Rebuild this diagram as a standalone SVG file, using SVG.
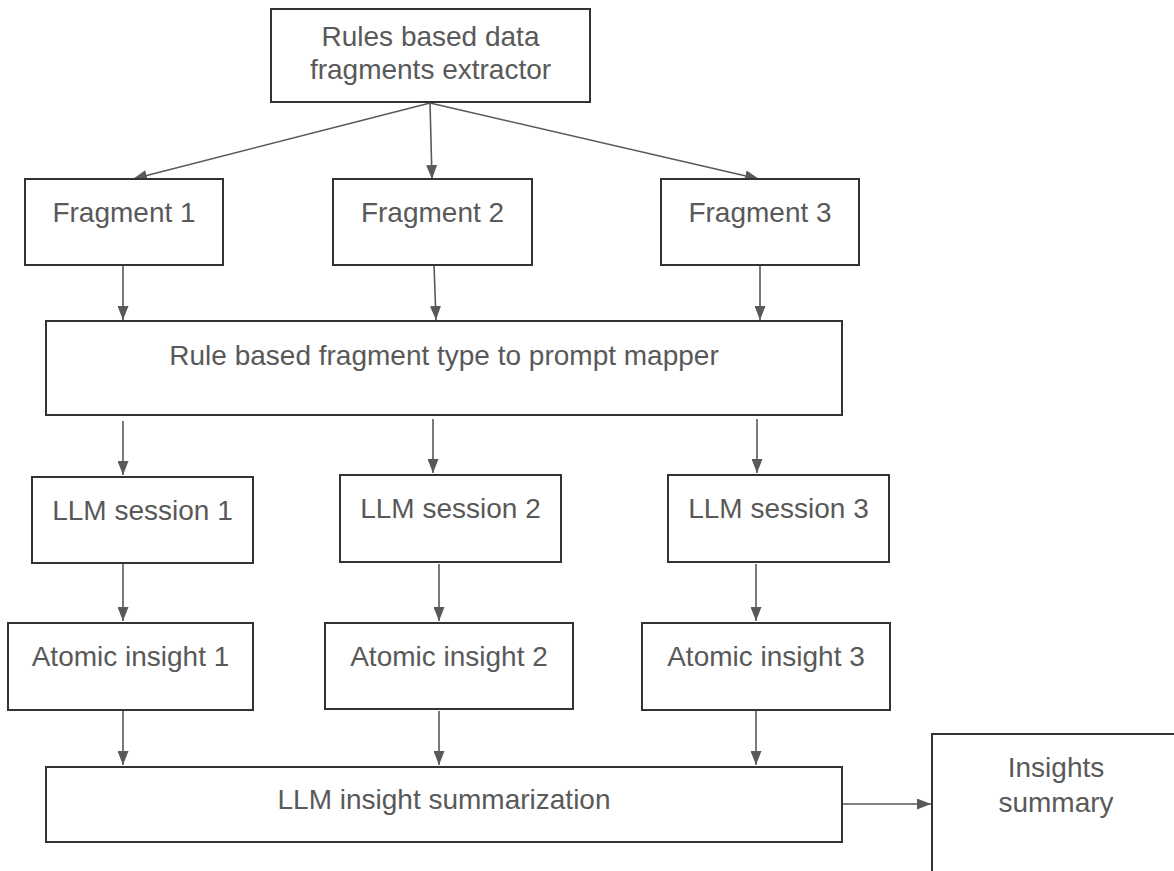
<svg xmlns="http://www.w3.org/2000/svg" width="1174" height="871" viewBox="0 0 1174 871">
<style>
.box{fill:#fff;stroke:#333;stroke-width:2}
.lbl{font-family:"Liberation Sans",Arial,sans-serif;font-size:28px;fill:#595959;text-anchor:middle}
.con{stroke:#595959;stroke-width:1.6;fill:none}
</style>
<defs>
<marker id="ah" markerUnits="userSpaceOnUse" markerWidth="14" markerHeight="11" refX="14" refY="5.5" orient="auto">
<path d="M0,0 L14,5.5 L0,11 z" fill="#595959"/>
</marker>
</defs>
<rect width="1174" height="871" fill="#fff"/>
<g id="connectors">
<line class="con" x1="430" y1="103" x2="133" y2="179" marker-end="url(#ah)"/>
<line class="con" x1="430" y1="103" x2="432" y2="179" marker-end="url(#ah)"/>
<line class="con" x1="430" y1="103" x2="759" y2="179" marker-end="url(#ah)"/>
<line class="con" x1="123" y1="265" x2="123" y2="320" marker-end="url(#ah)"/>
<line class="con" x1="434" y1="265" x2="436" y2="320" marker-end="url(#ah)"/>
<line class="con" x1="760" y1="265" x2="760" y2="320" marker-end="url(#ah)"/>
<line class="con" x1="123" y1="421" x2="123" y2="475" marker-end="url(#ah)"/>
<line class="con" x1="433" y1="419" x2="433" y2="473" marker-end="url(#ah)"/>
<line class="con" x1="757" y1="419" x2="757" y2="473" marker-end="url(#ah)"/>
<line class="con" x1="123" y1="564" x2="123" y2="621" marker-end="url(#ah)"/>
<line class="con" x1="439" y1="564" x2="439" y2="621" marker-end="url(#ah)"/>
<line class="con" x1="756" y1="564" x2="756" y2="621" marker-end="url(#ah)"/>
<line class="con" x1="123" y1="711" x2="123" y2="765" marker-end="url(#ah)"/>
<line class="con" x1="439" y1="711" x2="439" y2="765" marker-end="url(#ah)"/>
<line class="con" x1="756" y1="711" x2="756" y2="765" marker-end="url(#ah)"/>
<line class="con" x1="843" y1="804" x2="931" y2="804" marker-end="url(#ah)"/>
</g>
<g id="extractor">
<rect class="box" x="271" y="9" width="319" height="93"/>
<text class="lbl" x="430.5" y="46">Rules based data</text>
<text class="lbl" x="430.5" y="79">fragments extractor</text>
</g>
<g id="fragment1">
<rect class="box" x="25" y="179" width="198" height="86"/>
<text class="lbl" x="124" y="222">Fragment 1</text>
</g>
<g id="fragment2">
<rect class="box" x="333" y="179" width="199" height="86"/>
<text class="lbl" x="432.5" y="222">Fragment 2</text>
</g>
<g id="fragment3">
<rect class="box" x="661" y="179" width="198" height="86"/>
<text class="lbl" x="760" y="222">Fragment 3</text>
</g>
<g id="mapper">
<rect class="box" x="46" y="321" width="796" height="94"/>
<text class="lbl" x="444" y="365">Rule based fragment type to prompt mapper</text>
</g>
<g id="llm1">
<rect class="box" x="32" y="477" width="221" height="86"/>
<text class="lbl" x="142.5" y="520">LLM session 1</text>
</g>
<g id="llm2">
<rect class="box" x="340" y="475" width="221" height="87"/>
<text class="lbl" x="450.5" y="518">LLM session 2</text>
</g>
<g id="llm3">
<rect class="box" x="668" y="475" width="221" height="87"/>
<text class="lbl" x="778.5" y="518">LLM session 3</text>
</g>
<g id="atomic1">
<rect class="box" x="8" y="623" width="245" height="87"/>
<text class="lbl" x="130.5" y="666">Atomic insight 1</text>
</g>
<g id="atomic2">
<rect class="box" x="325" y="623" width="248" height="86"/>
<text class="lbl" x="449" y="666">Atomic insight 2</text>
</g>
<g id="atomic3">
<rect class="box" x="642" y="623" width="248" height="87"/>
<text class="lbl" x="766" y="666">Atomic insight 3</text>
</g>
<g id="summarization">
<rect class="box" x="46" y="767" width="796" height="75"/>
<text class="lbl" x="444" y="809">LLM insight summarization</text>
</g>
<g id="summary">
<rect class="box" x="932" y="734" width="248" height="160"/>
<text class="lbl" x="1056" y="777">Insights</text>
<text class="lbl" x="1056" y="812">summary</text>
</g>
</svg>
